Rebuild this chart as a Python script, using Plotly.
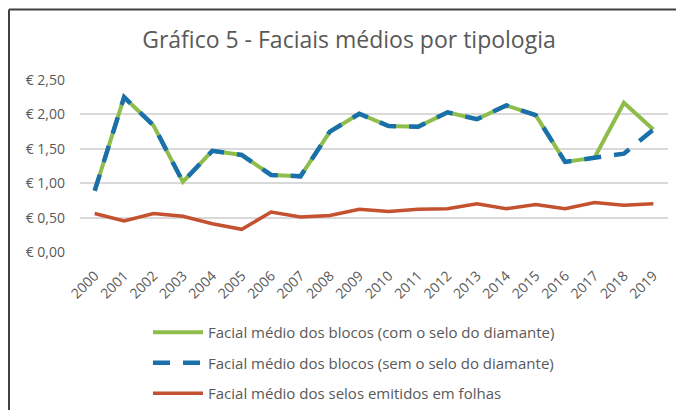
import plotly.graph_objects as go

anos = [str(a) for a in range(2000, 2020)]
com_diamante = [0.89, 2.25, 1.84, 1.02, 1.47, 1.41, 1.12, 1.10, 1.75, 2.01,
                1.83, 1.82, 2.03, 1.93, 2.13, 1.99, 1.31, 1.37, 2.17, 1.78]
sem_diamante = [0.89, 2.25, 1.84, 1.02, 1.47, 1.41, 1.12, 1.10, 1.75, 2.01,
                1.83, 1.82, 2.03, 1.93, 2.13, 1.99, 1.31, 1.37, 1.43, 1.78]
folhas = [0.56, 0.45, 0.56, 0.52, 0.41, 0.33, 0.58, 0.51, 0.53, 0.62,
          0.59, 0.62, 0.63, 0.70, 0.63, 0.69, 0.63, 0.72, 0.68, 0.70]
y_ticks = [0, 0.5, 1.0, 1.5, 2.0, 2.5]
y_tick_labels = ["€ 0,00", "€ 0,50", "€ 1,00", "€ 1,50", "€ 2,00", "€ 2,50"]

W, H = 676, 410
L, R, T, B = 80, 8, 80, 158
pw, ph = W - L - R, H - T - B

def px_x(px):
    return (px - L) / pw

def px_y(py):
    return (H - B - py) / ph

grey = "#595959"
font = "Open Sans"

fig = go.Figure()
fig.add_trace(go.Scatter(x=anos, y=com_diamante, mode="lines",
                         name="Facial médio dos blocos (com o selo do diamante)",
                         line=dict(color="#8fbd4b", width=4), legendgroup="a"))
fig.add_trace(go.Scatter(x=anos, y=sem_diamante, mode="lines",
                         name="Facial médio dos blocos (sem o selo do diamante)",
                         line=dict(color="#1a70aa", width=4.5, dash="17px,13px"),
                         legendgroup="b"))
fig.add_trace(go.Scatter(x=anos, y=folhas, mode="lines",
                         name="Facial médio dos selos emitidos em folhas",
                         line=dict(color="#c4512f", width=3.5), legendgroup="c"))

fig.update_layout(
    width=W, height=H,
    margin=dict(l=L, r=R, t=T, b=B, autoexpand=False),
    paper_bgcolor="white", plot_bgcolor="white",
    font=dict(family=font, color=grey, size=13),
    title=dict(text="Gráfico 5 - Faciais médios por tipologia",
               font=dict(family=font, size=23, color=grey),
               x=0.5 * (143 + 555) / W, xanchor="center",
               y=1 - 40 / H, yanchor="middle"),
    xaxis=dict(type="category", range=[-0.5, len(anos) - 0.5], tickangle=-45,
               showgrid=False, showline=False, ticks="",
               tickfont=dict(size=14, color=grey), fixedrange=True,
               ticklabelstandoff=12),
    yaxis=dict(range=[0, 2.5], tickvals=y_ticks, ticktext=y_tick_labels,
               showgrid=True, gridcolor="#d9d9d9", gridwidth=1.5, zeroline=False,
               showline=False, ticks="", ticklabelstandoff=14,
               tickfont=dict(size=14, color=grey), fixedrange=True),
    showlegend=True,
    legend=dict(x=px_x(148), xanchor="left", y=px_y(316), yanchor="top",
                orientation="v", tracegroupgap=8, itemwidth=50,
                font=dict(size=15, color=grey), bgcolor="rgba(0,0,0,0)"),
)

# chart frame (left and top edges visible)
fig.add_shape(type="line", xref="paper", yref="paper",
              x0=px_x(9), x1=px_x(9), y0=px_y(9.5), y1=px_y(420),
              line=dict(color="#404040", width=2))
fig.add_shape(type="line", xref="paper", yref="paper",
              x0=px_x(9), x1=px_x(690), y0=px_y(9.5), y1=px_y(9.5),
              line=dict(color="#404040", width=2))

fig.write_html("out.html", config={"displayModeBar": False},
               post_script="document.body.style.margin='0';")
